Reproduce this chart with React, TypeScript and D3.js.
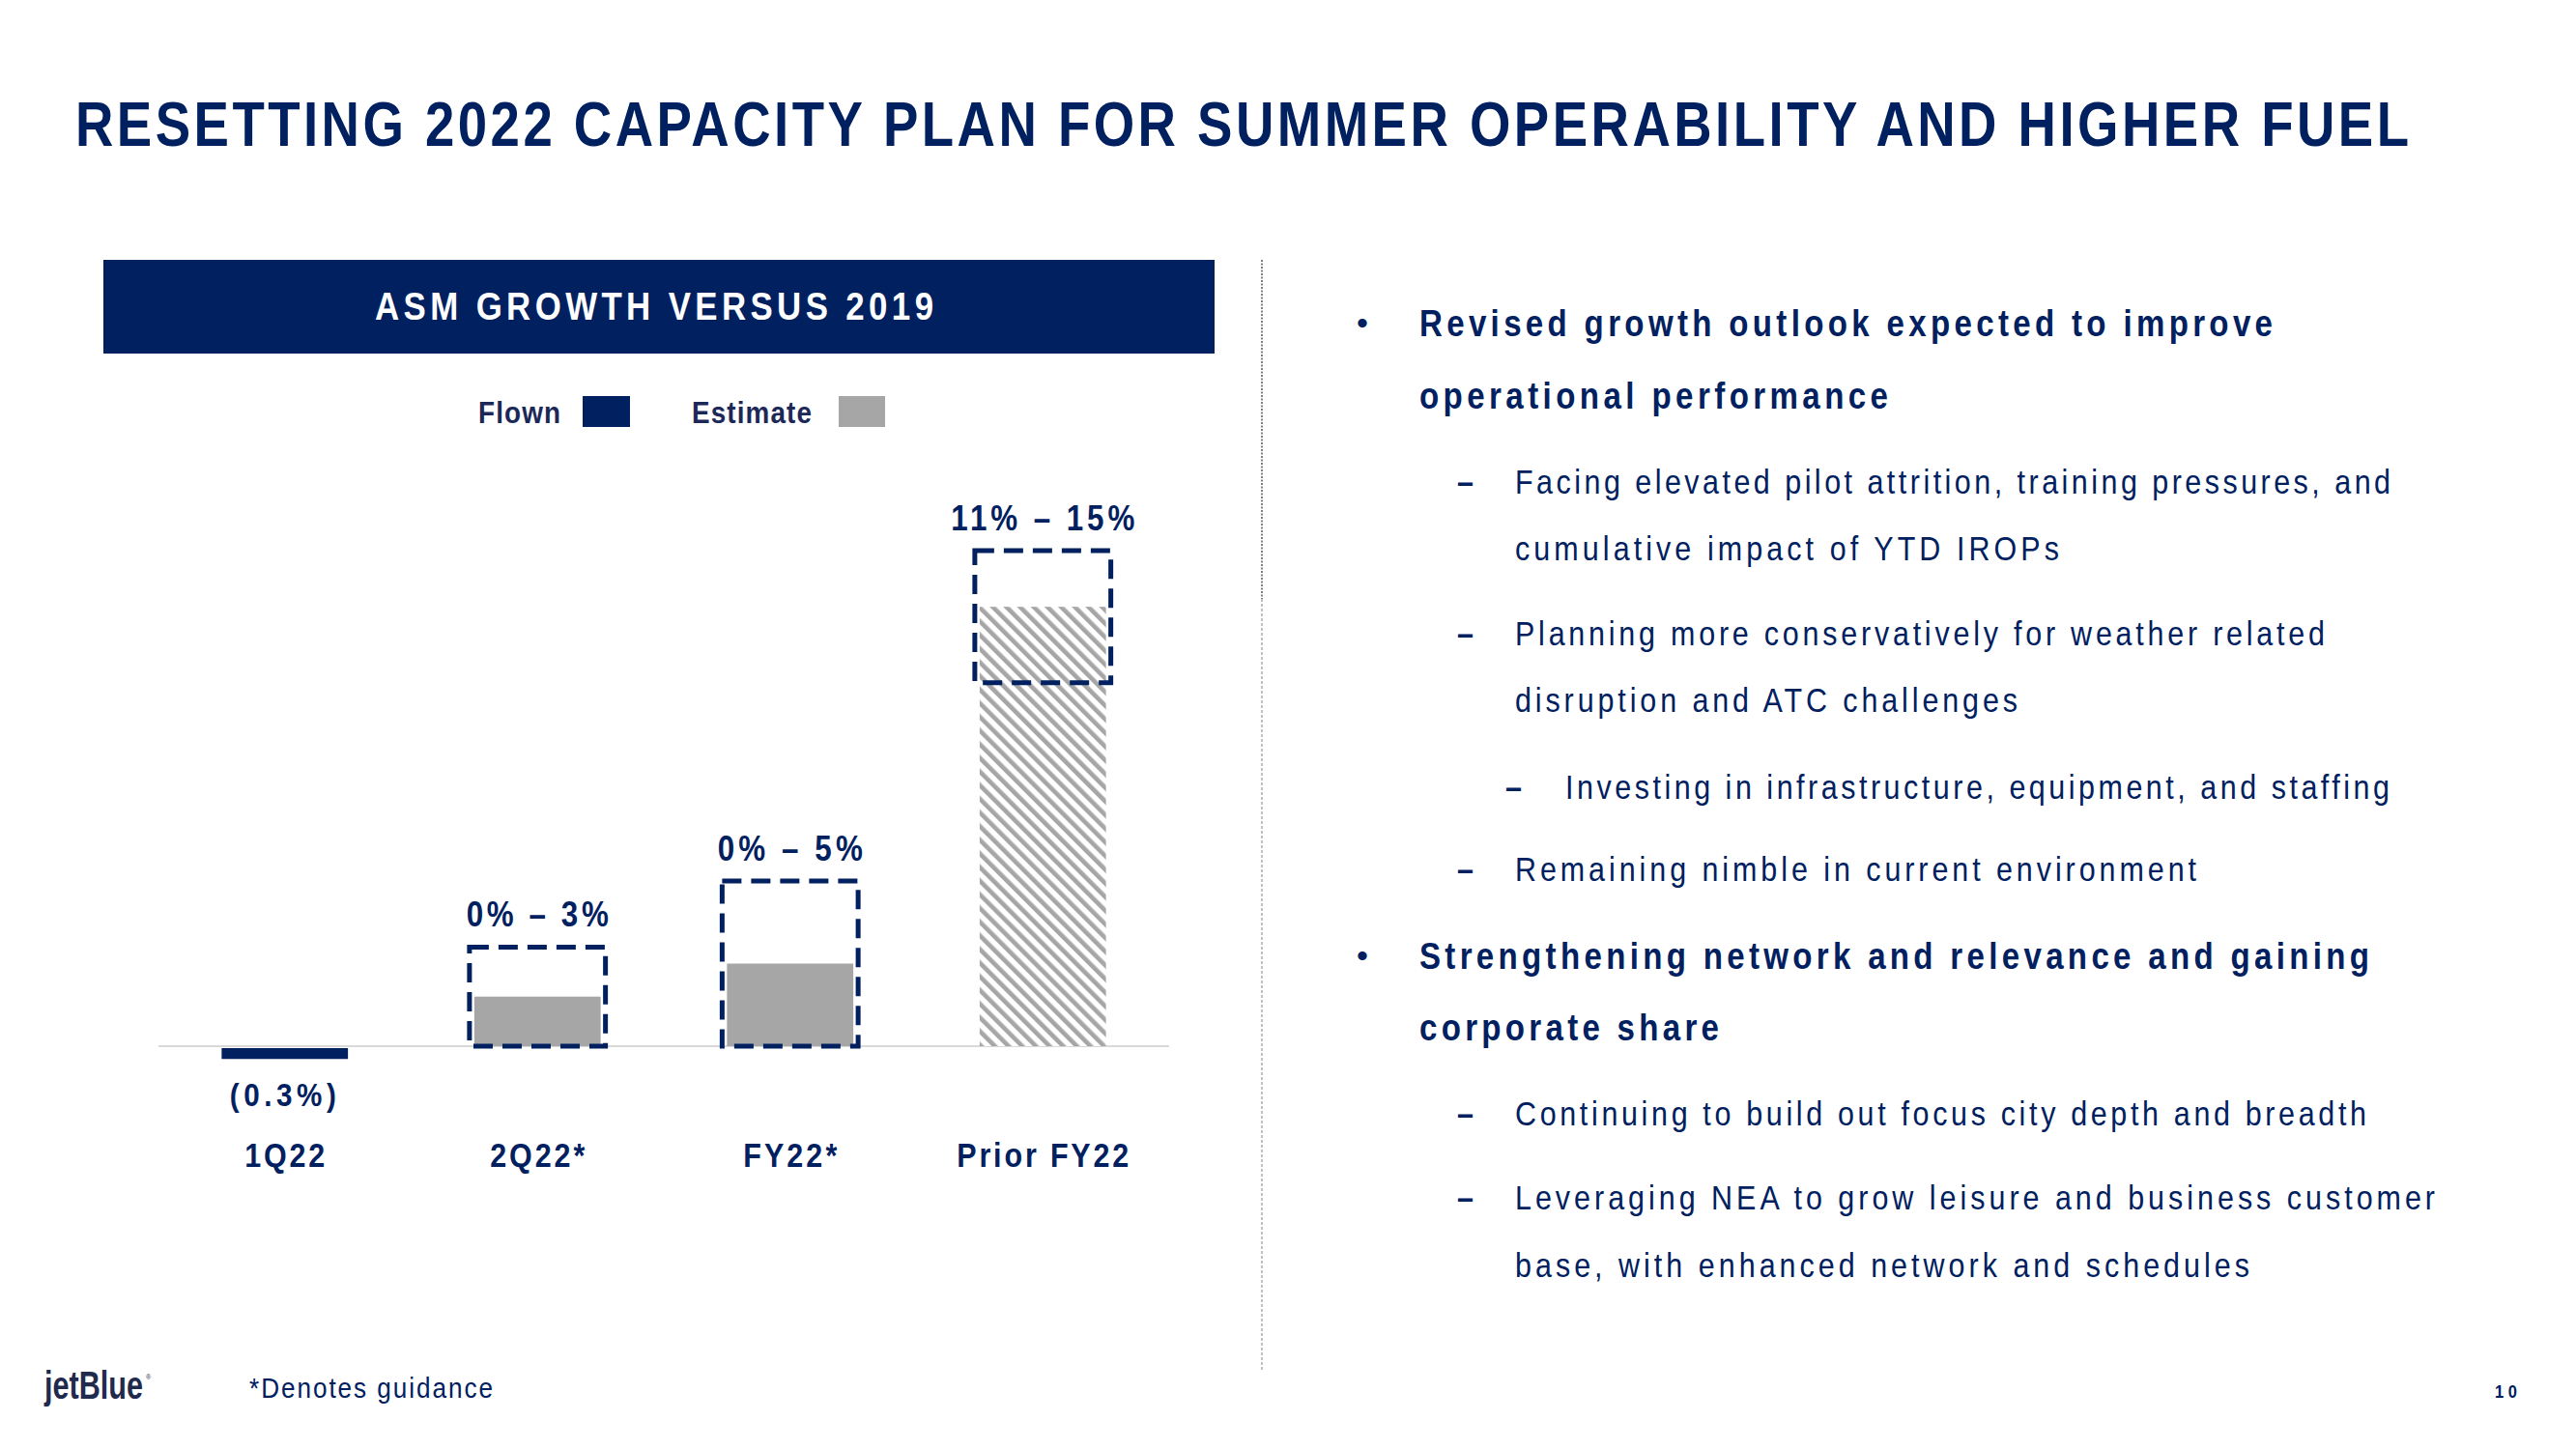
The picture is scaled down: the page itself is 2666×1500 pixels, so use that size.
import React from "react";
import * as d3 from "d3";

const categories = ["1Q22", "2Q22*", "FY22*", "Prior FY22"];
const flownValues: (number | null)[] = [-0.3, null, null, null];
const estimateValues: (number | null)[] = [null, 1.5, 2.5, 13.3];
const rangeLow: (number | null)[] = [null, 0, 0, 11];
const rangeHigh: (number | null)[] = [null, 3, 5, 15];
const hatchedBar = [false, false, false, true];
const valueLabels = ["(0.3%)", "0% – 3%", "0% – 5%", "11% – 15%"];

const titleText = "RESETTING 2022 CAPACITY PLAN FOR SUMMER OPERABILITY AND HIGHER FUEL";
const boxTitle = "ASM GROWTH VERSUS 2019";
const legendItems = ["Flown", "Estimate"];
const footnote = "*Denotes guidance";
const pageNumber = "10";

type Line = { kind: "bullet" | "sub" | "subsub" | "cont" | "subcont"; text: string; bold: boolean };
const bulletLines: Line[] = [
  { kind: "bullet", text: "Revised growth outlook expected to improve", bold: true },
  { kind: "cont", text: "operational performance", bold: true },
  { kind: "sub", text: "Facing elevated pilot attrition, training pressures, and", bold: false },
  { kind: "subcont", text: "cumulative impact of YTD IROPs", bold: false },
  { kind: "sub", text: "Planning more conservatively for weather related", bold: false },
  { kind: "subcont", text: "disruption and ATC challenges", bold: false },
  { kind: "subsub", text: "Investing in infrastructure, equipment, and staffing", bold: false },
  { kind: "sub", text: "Remaining nimble in current environment", bold: false },
  { kind: "bullet", text: "Strengthening network and relevance and gaining", bold: true },
  { kind: "cont", text: "corporate share", bold: true },
  { kind: "sub", text: "Continuing to build out focus city depth and breadth", bold: false },
  { kind: "sub", text: "Leveraging NEA to grow leisure and business customer", bold: false },
  { kind: "subcont", text: "base, with enhanced network and schedules", bold: false },
];
// layout (baselines / widths) for the right column
const lineBaselines = [348, 423, 511, 580, 668, 737, 827, 912, 1003, 1077, 1165, 1252, 1322];
const lineWidths = [883, 485, 906, 563, 838, 520, 853, 705, 983, 310, 881, 952, 760];
// layout widths for chart labels
const valueLabelWidths = [110, 147, 150, 190];
const categoryLabelWidths = [83, 98, 97, 178];

const NAVY = "#002060";
const GRAY = "#a6a6a6";
const FONT = "'Liberation Sans', Arial, sans-serif";
const SX = 0.87;

function CText(props: {
  x: number;
  y: number;
  w: number;
  size: number;
  bold?: boolean;
  fill?: string;
  anchor?: "start" | "middle" | "end";
  sx?: number;
  children: React.ReactNode;
}) {
  const sx = props.sx ?? SX;
  return (
    <text
      transform={`translate(${props.x},${props.y}) scale(${sx},1)`}
      fontSize={props.size}
      fontWeight={props.bold ? "bold" : "normal"}
      fill={props.fill ?? NAVY}
      textAnchor={props.anchor ?? "start"}
      textLength={props.w / sx}
      lengthAdjust="spacing"
    >
      {props.children}
    </text>
  );
}

export default function App() {
  const x = d3.scaleBand<string>().domain(categories).range([164, 1210]).paddingInner(0.5).paddingOuter(0.25);
  const y = d3.scaleLinear().domain([0, 15]).range([1083, 570]);
  const bw = x.bandwidth();

  return (
    <svg width={2666} height={1500} style={{ position: "absolute", left: 0, top: 0, background: "#fff" }} fontFamily={FONT}>
      <defs>
        <pattern id="hatch" patternUnits="userSpaceOnUse" width={10} height={10} patternTransform="rotate(-45)">
          <rect width={10} height={10} fill="#fff" />
          <rect x={0} y={0} width={4.6} height={10} fill={GRAY} />
        </pattern>
      </defs>

      {/* Title */}
      <CText x={78} y={151} w={2415} size={65} bold sx={0.84}>
        {titleText}
      </CText>

      {/* Chart header box */}
      <rect x={107} y={269} width={1150} height={97} fill={NAVY} />
      <CText x={388} y={331} w={578} size={40} bold fill="#fff">
        {boxTitle}
      </CText>

      {/* Legend */}
      <CText x={495} y={438} w={85} size={32} bold fill="#1c2858">
        {legendItems[0]}
      </CText>
      <rect x={603} y={410} width={49} height={32} fill={NAVY} />
      <CText x={716} y={438} w={124} size={32} bold fill="#1c2858">
        {legendItems[1]}
      </CText>
      <rect x={868} y={410} width={48} height={32} fill={GRAY} />

      {/* Zero line */}
      <line x1={164} x2={1210} y1={y(0)} y2={y(0)} stroke="#d9d9d9" strokeWidth={2} />

      {/* Bars */}
      {categories.map((c, i) => {
        const x0 = x(c)!;
        const cx = x0 + bw / 2;
        const els: React.ReactNode[] = [];
        const f = flownValues[i];
        if (f != null) {
          els.push(<rect key="f" x={x0} y={y(0) + 2} width={bw} height={Math.abs(y(f) - y(0)) + 1} fill={NAVY} />);
        }
        const e = estimateValues[i];
        if (e != null) {
          els.push(
            <rect key="e" x={x0} y={y(e)} width={bw} height={y(0) - y(e)} fill={hatchedBar[i] ? "url(#hatch)" : GRAY} />
          );
        }
        const lo = rangeLow[i];
        const hi = rangeHigh[i];
        if (lo != null && hi != null) {
          els.push(
            <rect
              key="b"
              x={x0 - 5}
              y={y(hi)}
              width={bw + 10}
              height={y(lo) - y(hi)}
              fill="none"
              stroke={NAVY}
              strokeWidth={5}
              strokeDasharray="20 10"
            />
          );
          els.push(
            <CText key="l" x={cx} y={y(hi) - 21} w={valueLabelWidths[i]} size={36} bold anchor="middle">
              {valueLabels[i]}
            </CText>
          );
        } else {
          els.push(
            <CText key="l" x={cx - 2} y={1145} w={valueLabelWidths[i]} size={34} bold anchor="middle">
              {valueLabels[i]}
            </CText>
          );
        }
        els.push(
          <CText key="c" x={cx} y={1208} w={categoryLabelWidths[i]} size={35} bold anchor="middle">
            {c}
          </CText>
        );
        return <g key={c}>{els}</g>;
      })}

      {/* Divider */}
      <line x1={1306} x2={1306} y1={269} y2={620} stroke="#555" strokeWidth={1.5} strokeDasharray="2 1.5" />
      <line x1={1306} x2={1306} y1={620} y2={1420} stroke="#999" strokeWidth={1.2} strokeDasharray="3 2" />

      {/* Right column */}
      {bulletLines.map((ln, i) => {
        const base = lineBaselines[i];
        let tx = 1469;
        let marker: React.ReactNode = null;
        if (ln.kind === "bullet") {
          marker = (
            <text x={1404} y={base - 2} fontSize={34} fill={NAVY}>
              •
            </text>
          );
        } else if (ln.kind === "sub") {
          tx = 1568;
          marker = (
            <CText x={1508} y={base} w={20} size={35} bold>
              –
            </CText>
          );
        } else if (ln.kind === "subcont") {
          tx = 1568;
        } else if (ln.kind === "subsub") {
          tx = 1620;
          marker = (
            <CText x={1558} y={base} w={20} size={35} bold>
              –
            </CText>
          );
        }
        return (
          <g key={i}>
            {marker}
            <CText x={tx} y={base} w={lineWidths[i]} size={ln.bold ? 38 : 35} bold={ln.bold}>
              {ln.text}
            </CText>
          </g>
        );
      })}

      {/* Footer */}
      <text x={46} y={1448} fontSize={40} fontWeight="bold" fill="#1f2a4d" textLength={102} lengthAdjust="spacingAndGlyphs">
        jetBlue
      </text>
      <text x={151} y={1428} fontSize={7} fill="#1f2a4d">
        ®
      </text>
      <CText x={258} y={1447} w={252} size={30}>
        {footnote}
      </CText>
      <CText x={2582} y={1447} w={23} size={19} bold>
        {pageNumber}
      </CText>
    </svg>
  );
}
